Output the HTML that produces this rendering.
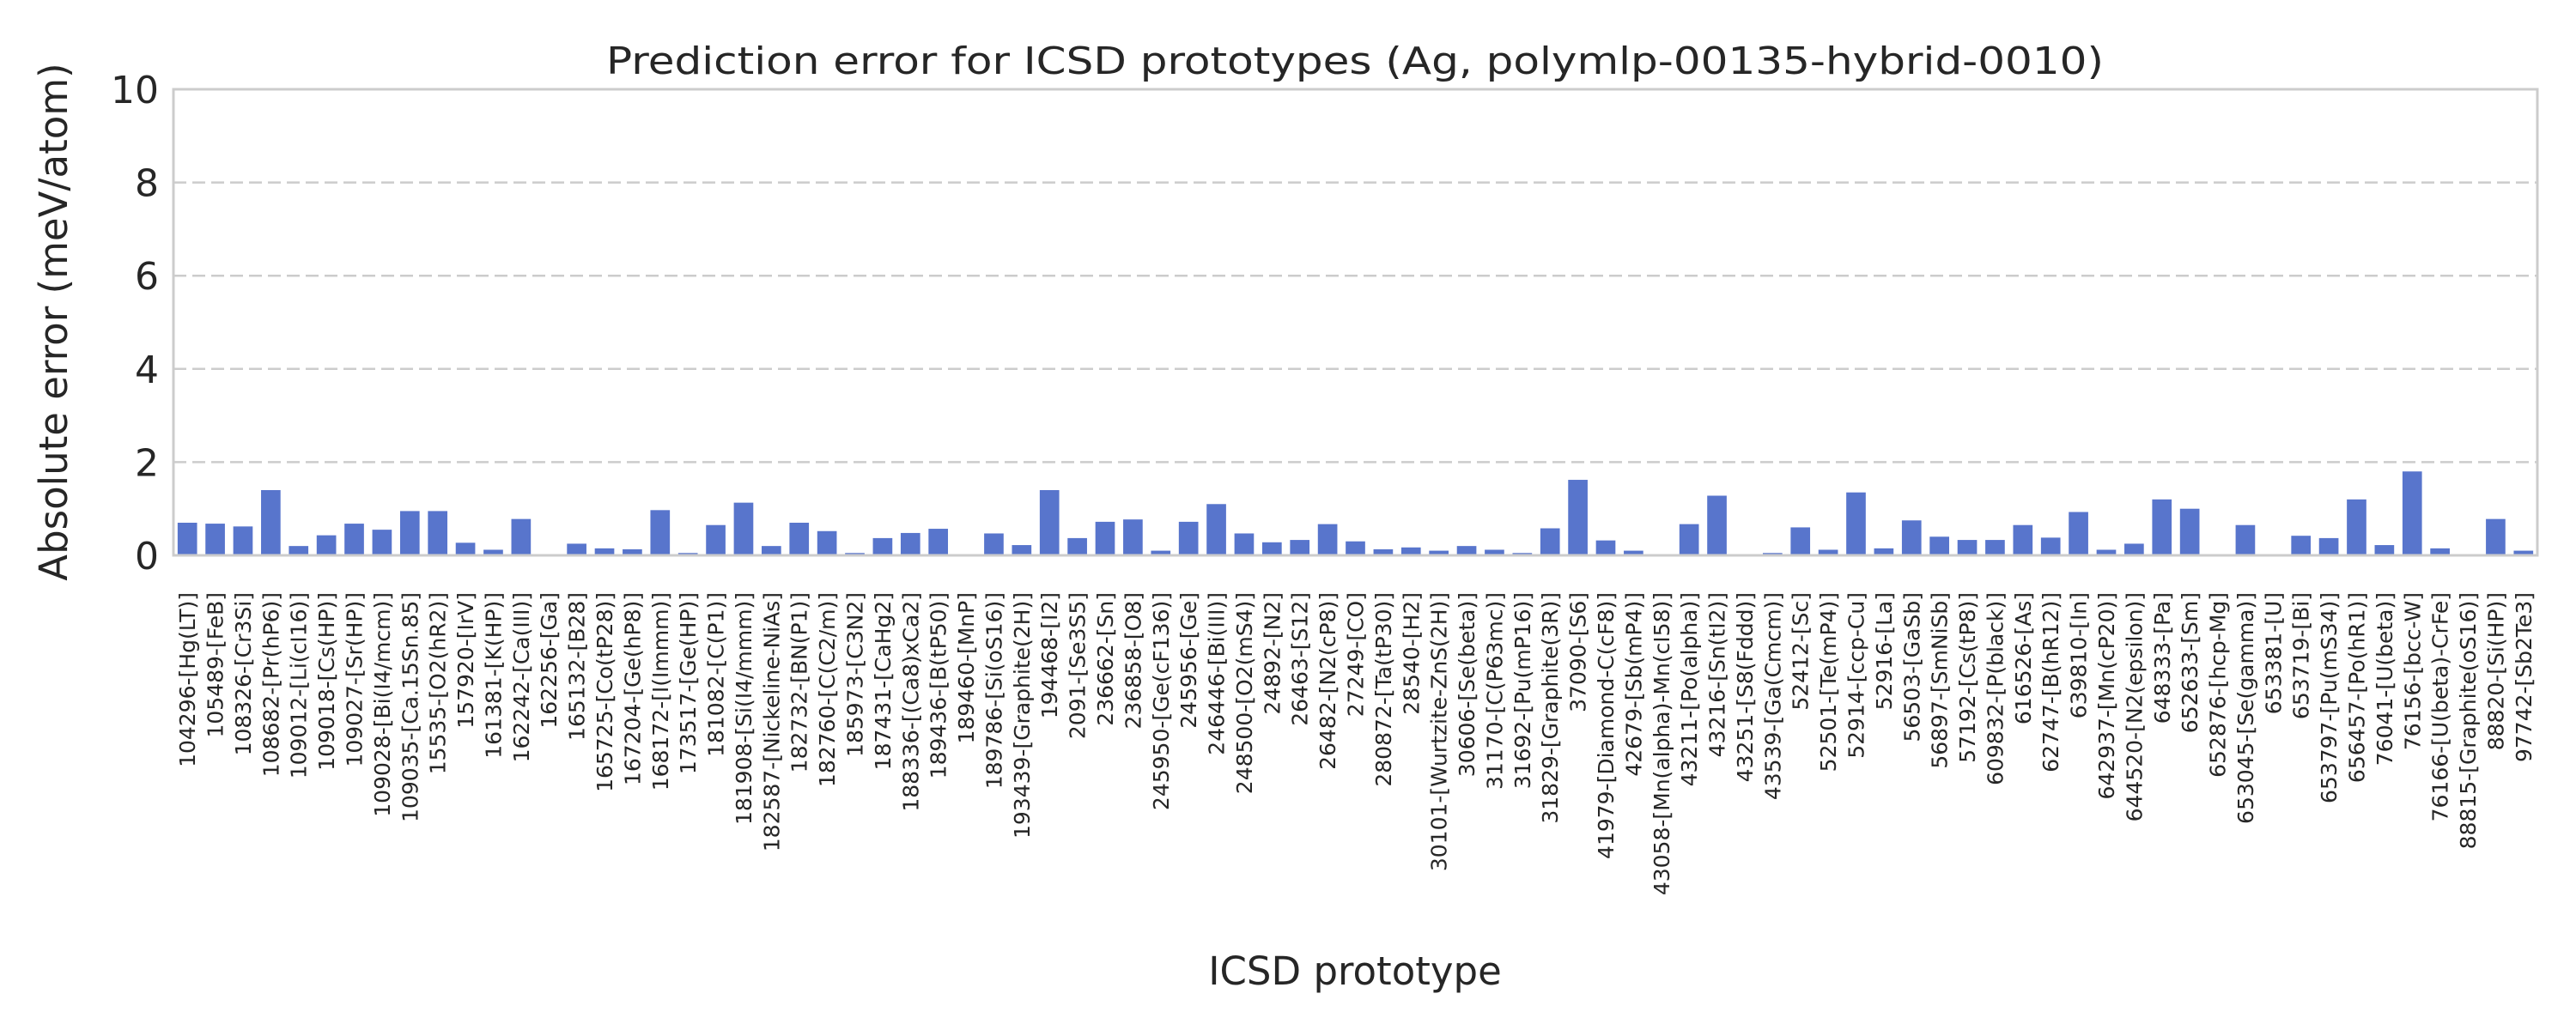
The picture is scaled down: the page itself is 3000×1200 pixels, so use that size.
<!DOCTYPE html>
<html><head><meta charset="utf-8"><style>
html,body{margin:0;padding:0;background:#fff;}
svg{display:block;font-family:"DejaVu Sans","Liberation Sans",sans-serif;}
</style></head><body>
<svg id="chart" width="3000" height="1200" viewBox="0 0 3000 1200" xmlns="http://www.w3.org/2000/svg">
<rect x="0" y="0" width="3000" height="1200" fill="#fff"/>
<g id="grid"></g>
<g id="bars"></g>
<rect x="202" y="104" width="2753" height="543" fill="none" stroke="#cccccc" stroke-width="3"/>
<g id="yticks"></g>
<g id="xticks"></g>
<text x="1578" y="86" text-anchor="middle" font-size="44" fill="#262626" textLength="1744" lengthAdjust="spacingAndGlyphs">Prediction error for ICSD prototypes (Ag, polymlp-00135-hybrid-0010)</text>
<text x="1578" y="1147" text-anchor="middle" font-size="45" fill="#262626">ICSD prototype</text>
<text transform="translate(78,375) rotate(-90)" text-anchor="middle" font-size="45" fill="#262626">Absolute error (meV/atom)</text>
</svg>
<script>
const categories = ["104296-[Hg(LT)]","105489-[FeB]","108326-[Cr3Si]","108682-[Pr(hP6)]","109012-[Li(cI16)]","109018-[Cs(HP)]","109027-[Sr(HP)]","109028-[Bi(I4/mcm)]","109035-[Ca.15Sn.85]","15535-[O2(hR2)]","157920-[IrV]","161381-[K(HP)]","162242-[Ca(III)]","162256-[Ga]","165132-[B28]","165725-[Co(tP28)]","167204-[Ge(hP8)]","168172-[I(Immm)]","173517-[Ge(HP)]","181082-[C(P1)]","181908-[Si(I4/mmm)]","182587-[Nickeline-NiAs]","182732-[BN(P1)]","182760-[C(C2/m)]","185973-[C3N2]","187431-[CaHg2]","188336-[(Ca8)xCa2]","189436-[B(tP50)]","189460-[MnP]","189786-[Si(oS16)]","193439-[Graphite(2H)]","194468-[I2]","2091-[Se3S5]","236662-[Sn]","236858-[O8]","245950-[Ge(cF136)]","245956-[Ge]","246446-[Bi(III)]","248500-[O2(mS4)]","24892-[N2]","26463-[S12]","26482-[N2(cP8)]","27249-[CO]","280872-[Ta(tP30)]","28540-[H2]","30101-[Wurtzite-ZnS(2H)]","30606-[Se(beta)]","31170-[C(P63mc)]","31692-[Pu(mP16)]","31829-[Graphite(3R)]","37090-[S6]","41979-[Diamond-C(cF8)]","42679-[Sb(mP4)]","43058-[Mn(alpha)-Mn(cI58)]","43211-[Po(alpha)]","43216-[Sn(tI2)]","43251-[S8(Fddd)]","43539-[Ga(Cmcm)]","52412-[Sc]","52501-[Te(mP4)]","52914-[ccp-Cu]","52916-[La]","56503-[GaSb]","56897-[SmNiSb]","57192-[Cs(tP8)]","609832-[P(black)]","616526-[As]","62747-[B(hR12)]","639810-[In]","642937-[Mn(cP20)]","644520-[N2(epsilon)]","648333-[Pa]","652633-[Sm]","652876-[hcp-Mg]","653045-[Se(gamma)]","653381-[U]","653719-[Bi]","653797-[Pu(mS34)]","656457-[Po(hR1)]","76041-[U(beta)]","76156-[bcc-W]","76166-[U(beta)-CrFe]","88815-[Graphite(oS16)]","88820-[Si(HP)]","97742-[Sb2Te3]"];
const errors = [0.70,0.68,0.62,1.40,0.20,0.43,0.68,0.55,0.95,0.95,0.27,0.12,0.78,0.02,0.25,0.15,0.13,0.97,0.05,0.65,1.13,0.20,0.70,0.52,0.05,0.37,0.48,0.57,0.02,0.47,0.22,1.40,0.37,0.72,0.77,0.10,0.72,1.10,0.47,0.28,0.33,0.67,0.30,0.13,0.17,0.10,0.20,0.12,0.05,0.58,1.62,0.32,0.10,0.02,0.67,1.28,0.02,0.05,0.60,0.12,1.35,0.15,0.75,0.40,0.33,0.33,0.65,0.38,0.93,0.12,0.25,1.20,1.00,0.02,0.65,0.02,0.42,0.37,1.20,0.22,1.80,0.15,0.02,0.78,0.10];
const yTicks = [0,2,4,6,8,10];
const yTickLabels = ["0","2","4","6","8","10"];

const NS = "http://www.w3.org/2000/svg";
const PL = 202, PR = 2955, PT = 104, PB = 647, YMAX = 10;
const band = (PR - PL) / categories.length;
function xScale(i){ return PL + band * i; }
function yScale(v){ return PB - (v / YMAX) * (PB - PT); }

const grid = document.getElementById('grid');
const yt = document.getElementById('yticks');
yTicks.forEach((t, k) => {
  if (t > 0 && t < YMAX) {
    const l = document.createElementNS(NS, 'line');
    l.setAttribute('x1', PL); l.setAttribute('x2', PR);
    l.setAttribute('y1', yScale(t)); l.setAttribute('y2', yScale(t));
    l.setAttribute('stroke', '#cccccc'); l.setAttribute('stroke-width', '2.5');
    l.setAttribute('stroke-dasharray', '15 7');
    
    
    grid.appendChild(l);
  }
  const tx = document.createElementNS(NS, 'text');
  tx.setAttribute('x', 185); tx.setAttribute('y', yScale(t) + 16);
  tx.setAttribute('text-anchor', 'end'); tx.setAttribute('font-size', '44');
  tx.setAttribute('fill', '#262626');
  tx.textContent = yTickLabels[k];
  
  
  yt.appendChild(tx);
});

const bars = document.getElementById('bars');
const xt = document.getElementById('xticks');
const bw = band * 0.70;
categories.forEach((c, i) => {
  const v = errors[i];
  const r = document.createElementNS(NS, 'rect');
  r.setAttribute('x', xScale(i) + (band - bw) / 2);
  r.setAttribute('y', yScale(v));
  r.setAttribute('width', bw);
  r.setAttribute('height', PB - yScale(v));
  r.setAttribute('fill', '#5875cc');
  
  
  bars.appendChild(r);
  const cx = xScale(i) + band / 2;
  const t = document.createElementNS(NS, 'text');
  t.setAttribute('transform', 'translate(' + (cx + 9) + ',690) rotate(-90)');
  t.setAttribute('text-anchor', 'end');
  t.setAttribute('font-size', '25');
  t.setAttribute('fill', '#262626');
  t.textContent = c;
  
  
  xt.appendChild(t);
});
</script>
</body></html>
